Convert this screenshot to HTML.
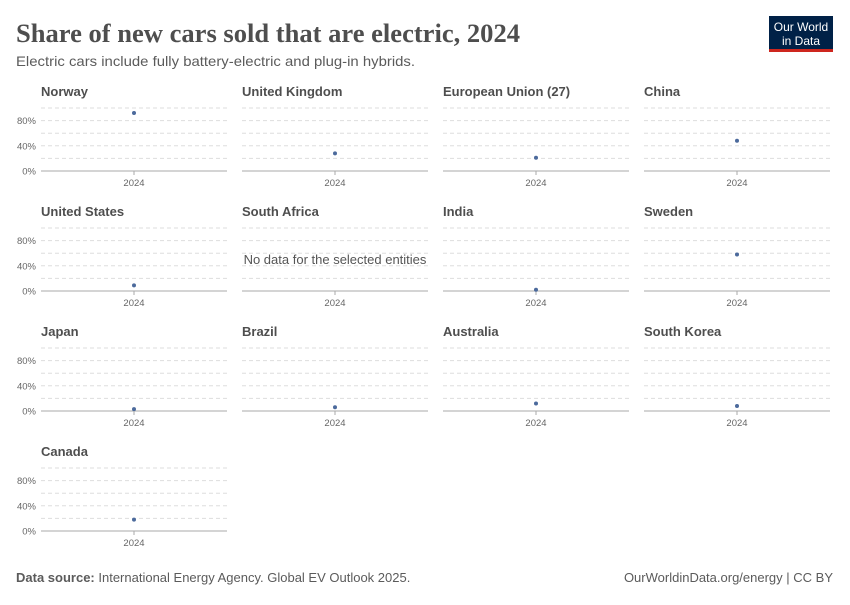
<!DOCTYPE html>
<html><head><meta charset="utf-8"><style>
body{margin:0;width:850px;height:600px;background:#fff;font-family:"Liberation Sans",sans-serif;overflow:hidden}
</style></head><body>
<svg width="850" height="600" xmlns="http://www.w3.org/2000/svg" font-family="Liberation Sans, sans-serif">
<text x="16" y="42" font-family="Liberation Serif, serif" font-size="26" font-weight="bold" fill="#4e4e4e" textLength="504" lengthAdjust="spacingAndGlyphs">Share of new cars sold that are electric, 2024</text>
<text x="16" y="66" font-size="14" fill="#5b5b5b" textLength="399" lengthAdjust="spacingAndGlyphs">Electric cars include fully battery-electric and plug-in hybrids.</text>
<rect x="769" y="16" width="64" height="34" fill="#002147"/>
<rect x="769" y="49" width="64" height="3" fill="#ce261e"/>
<text x="801" y="31" font-size="12" fill="#fff" text-anchor="middle">Our World</text>
<text x="801" y="45" font-size="12" fill="#fff" text-anchor="middle">in Data</text>
<g id="panels"></g>
<text x="16" y="582" font-size="13" fill="#5b5b5b"><tspan font-weight="bold">Data source:</tspan> International Energy Agency. Global EV Outlook 2025.</text>
<text x="833" y="582" font-size="13" fill="#5b5b5b" text-anchor="end">OurWorldinData.org/energy | CC BY</text>
</svg>
<script>
var d=[["Norway",92],["United Kingdom",28],["European Union (27)",21],["China",48],["United States",9],["South Africa",null],["India",2],["Sweden",58],["Japan",3],["Brazil",6],["Australia",12],["South Korea",8],["Canada",18]];
var g=document.getElementById('panels'),s='';
d.forEach(function(p,i){var c=i%4,r=Math.floor(i/4);var x0=41+c*201,base=171+r*120,ty=96+r*120,x1=x0+186;
s+='<text x="'+x0+'" y="'+ty+'" font-size="13" font-weight="bold" fill="#4e4e4e">'+p[0]+'</text>';
for(var k=1;k<=5;k++){var y=base-k*12.6;s+='<line x1="'+x0+'" x2="'+x1+'" y1="'+y+'" y2="'+y+'" stroke="#ddd" stroke-dasharray="4,3"/>';}
s+='<line x1="'+x0+'" x2="'+x1+'" y1="'+base+'" y2="'+base+'" stroke="#aaa"/>';
s+='<line x1="'+(x0+93)+'" x2="'+(x0+93)+'" y1="'+base+'" y2="'+(base+4)+'" stroke="#aaa"/>';
s+='<text x="'+(x0+93)+'" y="'+(base+15)+'" font-size="9.5" fill="#666" text-anchor="middle">2024</text>';
if(c==0){[["0%",0],["40%",2],["80%",4]].forEach(function(t){s+='<text x="36" y="'+(base-t[1]*12.6+3.5)+'" font-size="9.5" fill="#666" text-anchor="end">'+t[0]+'</text>';});}
if(p[1]===null)s+='<text x="'+(x0+93)+'" y="'+(base-27)+'" font-size="13" fill="#555" text-anchor="middle">No data for the selected entities</text>';
else s+='<circle cx="'+(x0+93)+'" cy="'+(base-p[1]*0.63)+'" r="2" fill="#4c6a9c"/>';});
g.innerHTML=s;
</script>
</body></html>
